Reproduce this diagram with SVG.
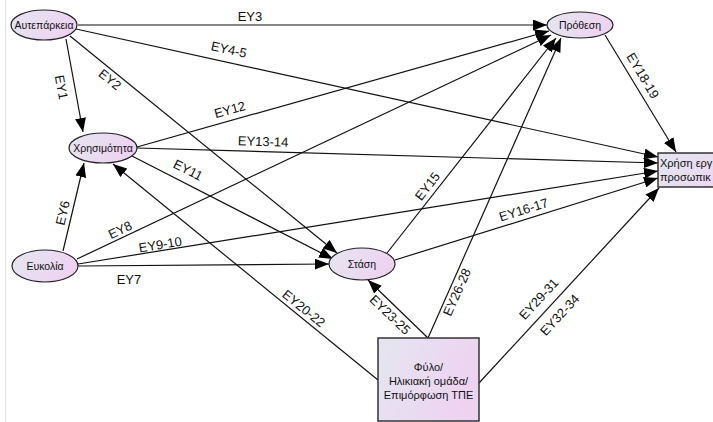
<svg xmlns="http://www.w3.org/2000/svg" width="713" height="422" viewBox="0 0 713 422">
<style>
.node{stroke:#222;stroke-width:1.2;fill:url(#g)}
.box{stroke:#333;stroke-width:1.5;fill:url(#g)}
.nt{font-family:"Liberation Sans",Arial,sans-serif;font-size:10.5px;fill:#111;text-anchor:middle}
.lbl{font-family:"Liberation Sans",Arial,sans-serif;font-size:13px;fill:#111;text-anchor:middle}
.e{stroke:#111;stroke-width:1.2;fill:none;marker-end:url(#ar)}
</style>
<defs>
<linearGradient id="g" x1="0" y1="0" x2="1" y2="0.3">
<stop offset="0" stop-color="#e4e6f0"/>
<stop offset="1" stop-color="#eed3f1"/>
</linearGradient>
<marker id="ar" markerUnits="userSpaceOnUse" markerWidth="15" markerHeight="11" refX="14" refY="5.5" orient="auto">
<path d="M0,0 L14,5.5 L0,11 Z" fill="#000"/>
</marker>
</defs>
<rect width="713" height="422" fill="#fff"/>
<line x1="5.5" y1="0" x2="5.5" y2="422" stroke="#e2e2e2" stroke-width="1"/>
<g id="connectors">
<path class="e" d="M78,25 L547,25"/>
<path class="e" d="M76,29 L658,157"/>
<path class="e" d="M66,39 L83,132"/>
<path class="e" d="M70,36 L337,253"/>
<path class="e" d="M137,147 L549,31"/>
<path class="e" d="M137,148 L658,163"/>
<path class="e" d="M132,156 L333,259"/>
<path class="e" d="M63,251 L84,163"/>
<path class="e" d="M77,259 L551,35"/>
<path class="e" d="M78,264 L658,171"/>
<path class="e" d="M78,266 L329,264"/>
<path class="e" d="M387,253 L556,38"/>
<path class="e" d="M395,260 L658,178"/>
<path class="e" d="M605,35 L676,152"/>
<path class="e" d="M378,380 L113,164"/>
<path class="e" d="M428,338 L368,280"/>
<path class="e" d="M428,338 L561,38"/>
<path class="e" d="M479,383 L659,188"/>
<text class="lbl" x="250" y="21">EY3</text>
<text class="lbl" transform="translate(228,54) rotate(12.5)">EY4-5</text>
<text class="lbl" transform="translate(57,88) rotate(80)">EY1</text>
<text class="lbl" transform="translate(107,83) rotate(39)">EY2</text>
<text class="lbl" transform="translate(231,114) rotate(-15.6)">EY12</text>
<text class="lbl" transform="translate(263,146) rotate(1.6)">EY13-14</text>
<text class="lbl" transform="translate(186,174) rotate(27)">EY11</text>
<text class="lbl" transform="translate(67,214) rotate(-77)">EY6</text>
<text class="lbl" transform="translate(122,234) rotate(-25.3)">EY8</text>
<text class="lbl" transform="translate(161,249) rotate(-9.2)">EY9-10</text>
<text class="lbl" x="129" y="284">EY7</text>
<text class="lbl" transform="translate(431,189) rotate(-52)">EY15</text>
<text class="lbl" transform="translate(525,214) rotate(-17.3)">EY16-17</text>
<text class="lbl" transform="translate(639,78) rotate(59)">EY18-19</text>
<text class="lbl" transform="translate(301,312) rotate(39)">EY20-22</text>
<text class="lbl" transform="translate(387,318) rotate(44)">EY23-25</text>
<text class="lbl" transform="translate(461,294) rotate(-66)">EY26-28</text>
<text class="lbl" transform="translate(542,302) rotate(-47)">EY29-31</text>
<text class="lbl" transform="translate(563,318) rotate(-47)">EY32-34</text>
</g>
<g id="autoeparkeia">
<ellipse class="node" cx="44" cy="25" rx="33" ry="15"/>
<text class="nt" x="44" y="29">Αυτεπάρκεια</text>
</g>
<g id="prothesi">
<ellipse class="node" cx="580" cy="25" rx="33" ry="13"/>
<text class="nt" x="580" y="29">Πρόθεση</text>
</g>
<g id="xrisimotita">
<ellipse class="node" cx="103" cy="148" rx="34" ry="15"/>
<text class="nt" x="103" y="152">Χρησιμότητα</text>
</g>
<g id="eukolia">
<ellipse class="node" cx="45" cy="266" rx="33" ry="16"/>
<text class="nt" x="45" y="270">Ευκολία</text>
</g>
<g id="stasi">
<ellipse class="node" cx="362" cy="264" rx="33" ry="16"/>
<text class="nt" x="362" y="268">Στάση</text>
</g>
<g id="xrisi">
<rect class="box" x="658" y="153" width="100" height="34"/>
<text class="nt" x="660" y="167" style="text-anchor:start;font-size:11px">Χρήση εργ</text>
<text class="nt" x="660" y="181" style="text-anchor:start;font-size:11px">προσωπικ</text>
</g>
<g id="dimografika">
<rect class="box" x="378" y="338" width="101" height="83"/>
<text class="nt" x="428.5" y="371" style="font-size:11px">Φύλο/</text>
<text class="nt" x="428.5" y="385" style="font-size:11px">Ηλικιακή ομάδα/</text>
<text class="nt" x="428.5" y="399" style="font-size:11px">Επιμόρφωση ΤΠΕ</text>
</g>
</svg>
